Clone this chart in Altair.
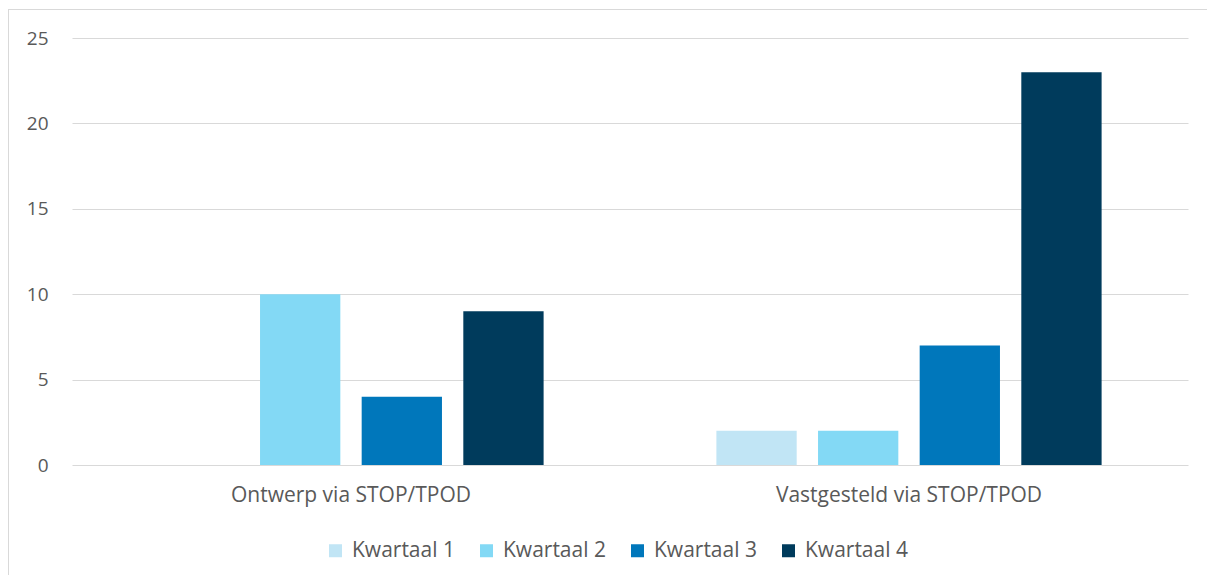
import altair as alt
import pandas as pd

categories = ["Ontwerp via STOP/TPOD", "Vastgesteld via STOP/TPOD"]
series = ["Kwartaal 1", "Kwartaal 2", "Kwartaal 3", "Kwartaal 4"]
ontwerp = [0, 10, 4, 9]
vastgesteld = [2, 2, 7, 23]
colors = ["#C1E5F5", "#83D9F5", "#0077BB", "#003B5C"]

rows = []
for s, v in zip(series, ontwerp):
    rows.append({"cat": categories[0], "serie": s, "val": v})
for s, v in zip(series, vastgesteld):
    rows.append({"cat": categories[1], "serie": s, "val": v})
df = pd.DataFrame(rows)

FONT = "Open Sans"
W, H = 1116, 427

bars = alt.Chart(df).mark_bar().encode(
    x=alt.X("cat:N", sort=categories,
            scale=alt.Scale(paddingInner=0, paddingOuter=0),
            axis=alt.Axis(title=None, labelAngle=0, domain=False, ticks=False, grid=False,
                          labelPadding=19, labelFontSize=21, labelColor="#595959",
                          labelFont=FONT, labelLimit=600)),
    xOffset=alt.XOffset("serie:N", sort=series,
                        scale=alt.Scale(paddingInner=0.21, paddingOuter=0.85)),
    y=alt.Y("val:Q", scale=alt.Scale(domain=[0, 25]),
            axis=alt.Axis(title=None, values=[0, 5, 10, 15, 20, 25], domain=False,
                          ticks=False, labelPadding=24, labelFontSize=19,
                          labelColor="#595959", labelFont=FONT,
                          gridColor="#D9D9D9", gridWidth=1)),
    color=alt.Color("serie:N", sort=series,
                    scale=alt.Scale(domain=series, range=colors),
                    legend=alt.Legend(title=None, orient="none", direction="horizontal",
                                      legendX=253, legendY=502, symbolType="square",
                                      symbolSize=169, symbolStrokeWidth=0,
                                      labelFontSize=21, labelColor="#595959",
                                      labelFont=FONT, labelOffset=6,
                                      columnPadding=21, labelLimit=300)),
)

frame = pd.DataFrame({"a": [0]})
left = alt.Chart(frame).mark_rule(color="#D9D9D9", strokeWidth=1).encode(
    x=alt.value(-63.5), y=alt.value(-29), y2=alt.value(560))
right = alt.Chart(frame).mark_rule(color="#D9D9D9", strokeWidth=1).encode(
    x=alt.value(1137.5), y=alt.value(-29), y2=alt.value(560))
top = alt.Chart(frame).mark_rule(color="#D9D9D9", strokeWidth=1).encode(
    x=alt.value(-64), x2=alt.value(1138), y=alt.value(-28.5))

chart = alt.layer(left, right, top, bars).properties(
    width=W, height=H,
    autosize=alt.AutoSizeParams(type="none"),
    padding={"left": 64, "top": 30, "right": 19, "bottom": 110},
).configure(background="white").configure_view(stroke="transparent", strokeWidth=0)

chart.save("out.html", embed_options={"renderer": "svg", "actions": False})
